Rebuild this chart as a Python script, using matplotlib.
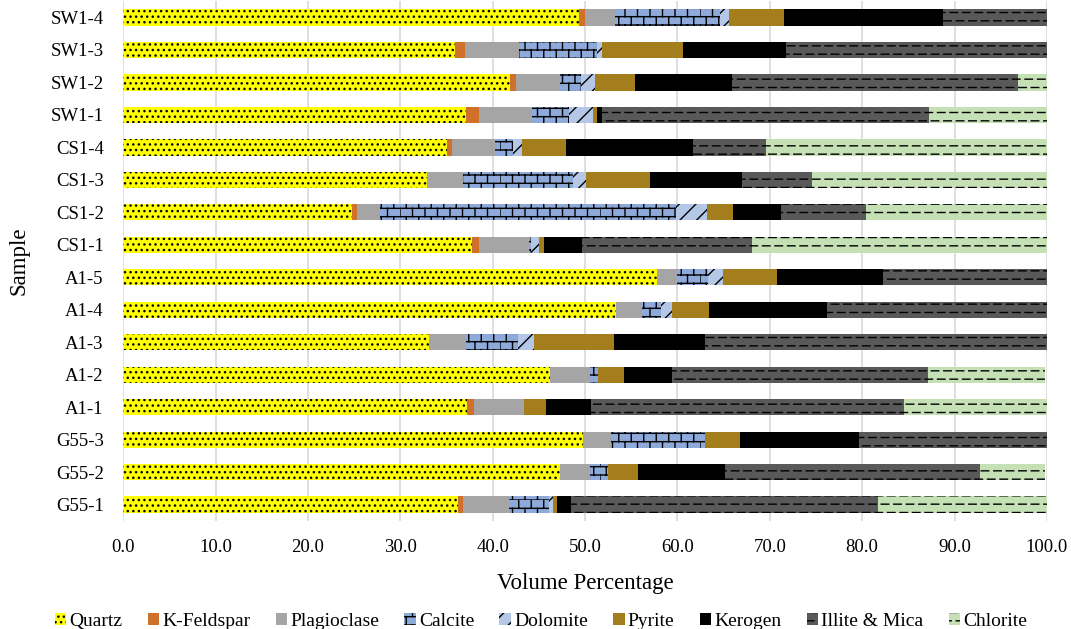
import warnings
import numpy as np
import matplotlib
matplotlib.use("Agg")
import matplotlib.pyplot as plt
from matplotlib import hatch as mhatch
from matplotlib.path import Path

warnings.filterwarnings("ignore")

samples = ["G55-1", "G55-2", "G55-3", "A1-1", "A1-2", "A1-3", "A1-4", "A1-5",
           "CS1-1", "CS1-2", "CS1-3", "CS1-4", "SW1-1", "SW1-2", "SW1-3", "SW1-4"]
minerals = ["Quartz", "K-Feldspar", "Plagioclase", "Calcite", "Dolomite",
            "Pyrite", "Kerogen", "Illite & Mica", "Chlorite"]

quartz      = [36.3, 47.3, 49.8, 37.2, 46.2, 33.1, 53.4, 57.8, 37.8, 24.8, 32.9, 35.1, 37.1, 41.9, 35.9, 49.4]
k_feldspar  = [0.5, 0.0, 0.0, 0.8, 0.0, 0.0, 0.0, 0.0, 0.7, 0.5, 0.0, 0.5, 1.4, 0.6, 1.1, 0.6]
plagioclase = [5.0, 3.2, 3.0, 5.4, 4.3, 4.0, 2.8, 2.2, 5.4, 2.5, 3.9, 4.6, 5.8, 4.8, 5.8, 3.2]
calcite     = [4.3, 2.0, 10.2, 0.0, 0.9, 5.6, 2.0, 3.3, 0.3, 32.1, 11.9, 2.0, 4.0, 2.3, 8.5, 11.4]
dolomite    = [0.4, 0.0, 0.0, 0.0, 0.0, 1.8, 1.2, 1.6, 0.8, 3.3, 1.4, 1.0, 2.6, 1.5, 0.5, 1.0]
pyrite      = [0.5, 3.2, 3.8, 2.4, 2.8, 8.6, 4.0, 5.9, 0.6, 2.8, 6.9, 4.7, 0.4, 4.3, 8.8, 5.9]
kerogen     = [1.5, 9.5, 12.9, 4.9, 5.2, 9.9, 12.8, 11.5, 4.1, 5.2, 10.0, 13.8, 0.5, 10.5, 11.2, 17.2]
illite_mica = [33.2, 27.6, 20.3, 33.8, 27.7, 37.0, 23.8, 17.7, 18.4, 9.2, 7.6, 7.9, 35.4, 31.0, 28.2, 11.3]
chlorite    = [18.3, 7.0, 0.0, 15.5, 12.7, 0.0, 0.0, 0.0, 31.9, 19.6, 25.4, 30.4, 12.8, 3.1, 0.0, 0.0]

series = [quartz, k_feldspar, plagioclase, calcite, dolomite,
          pyrite, kerogen, illite_mica, chlorite]
colors = ["#ffff00", "#d0712b", "#a5a5a5", "#8eaadb", "#b4c7e7",
          "#a47d1c", "#000000", "#595959", "#c5e0b4"]
hatches = ["...", None, None, "b", "//", None, None, "d", "d"]


# staggered dashed rows, like the Excel "dashed horizontal" fill
class DashRows(mhatch.HatchPatternBase):
    def __init__(self, hatch, density):
        self.rows = hatch.count("d") * density * 2
        self.cols = 8
        self.num_vertices = self.rows * (self.cols + 1) * 2

    def set_vertices_and_codes(self, vertices, codes):
        k = 0
        for i in range(self.rows):
            y = (i + 0.5) / self.rows
            shift = 0.5 * (i % 2)
            for j in range(self.cols + 1):
                x0 = (j - shift) / self.cols
                vertices[k] = (x0, y)
                vertices[k + 1] = (x0 + 0.6 / self.cols, y)
                codes[k] = Path.MOVETO
                codes[k + 1] = Path.LINETO
                k += 2


# brick pattern for calcite
class Bricks(mhatch.HatchPatternBase):
    def __init__(self, hatch, density):
        self.rows = hatch.count("b") * density * 2
        self.cols = 8
        self.num_vertices = self.rows * 2 + self.rows * self.cols * 2

    def set_vertices_and_codes(self, vertices, codes):
        k = 0
        for i in range(self.rows):
            y = i / self.rows
            vertices[k] = (0, y)
            vertices[k + 1] = (1, y)
            codes[k] = Path.MOVETO
            codes[k + 1] = Path.LINETO
            k += 2
        for i in range(self.rows):
            y0 = i / self.rows
            y1 = (i + 1) / self.rows
            shift = 0.5 * (i % 2)
            for j in range(self.cols):
                x = (j + shift) / self.cols
                vertices[k] = (x, y0)
                vertices[k + 1] = (x, y1)
                codes[k] = Path.MOVETO
                codes[k + 1] = Path.LINETO
                k += 2


mhatch._hatch_types.append(DashRows)
mhatch._hatch_types.append(Bricks)

plt.rcParams["font.family"] = ["Liberation Serif", "DejaVu Serif"]
plt.rcParams["hatch.color"] = "black"
plt.rcParams["hatch.linewidth"] = 1.0

fig = plt.figure(figsize=(10.71, 6.29), dpi=100)
ax = fig.add_axes([0.115, 0.172, 0.8625, 0.826])

y = np.arange(len(samples))
left = np.zeros(len(samples))
for name, vals, c, h in zip(minerals, series, colors, hatches):
    vals = np.array(vals)
    ax.barh(y, vals, left=left, height=0.5, color=c, hatch=h,
            linewidth=0, label=name)
    left += vals

ax.set_xlim(0, 100)
ax.set_ylim(-0.5, len(samples) - 0.5)
ax.set_xticks(np.arange(0, 101, 10))
ax.set_xticklabels([f"{v:.1f}" for v in np.arange(0, 101, 10)])
ax.set_yticks(y)
ax.set_yticklabels(samples)
ax.tick_params(axis="both", length=0, labelsize=13.5, colors="#000000")
ax.tick_params(axis="x", pad=13)
ax.tick_params(axis="y", pad=14)
ax.grid(axis="x", color="#d9d9d9", linewidth=1.2)
ax.set_axisbelow(True)
for s in ax.spines.values():
    s.set_visible(False)

ax.set_xlabel("Volume Percentage", fontsize=16.5, labelpad=12)
ax.set_ylabel("Sample", fontsize=16.5, labelpad=15)

fig.legend(loc="center", bbox_to_anchor=(0.505, 0.012), ncol=9,
           frameon=False, fontsize=14, handlelength=0.6, handleheight=0.6,
           handletextpad=0.15, columnspacing=1.3)

fig.savefig("out.png", dpi=100)
